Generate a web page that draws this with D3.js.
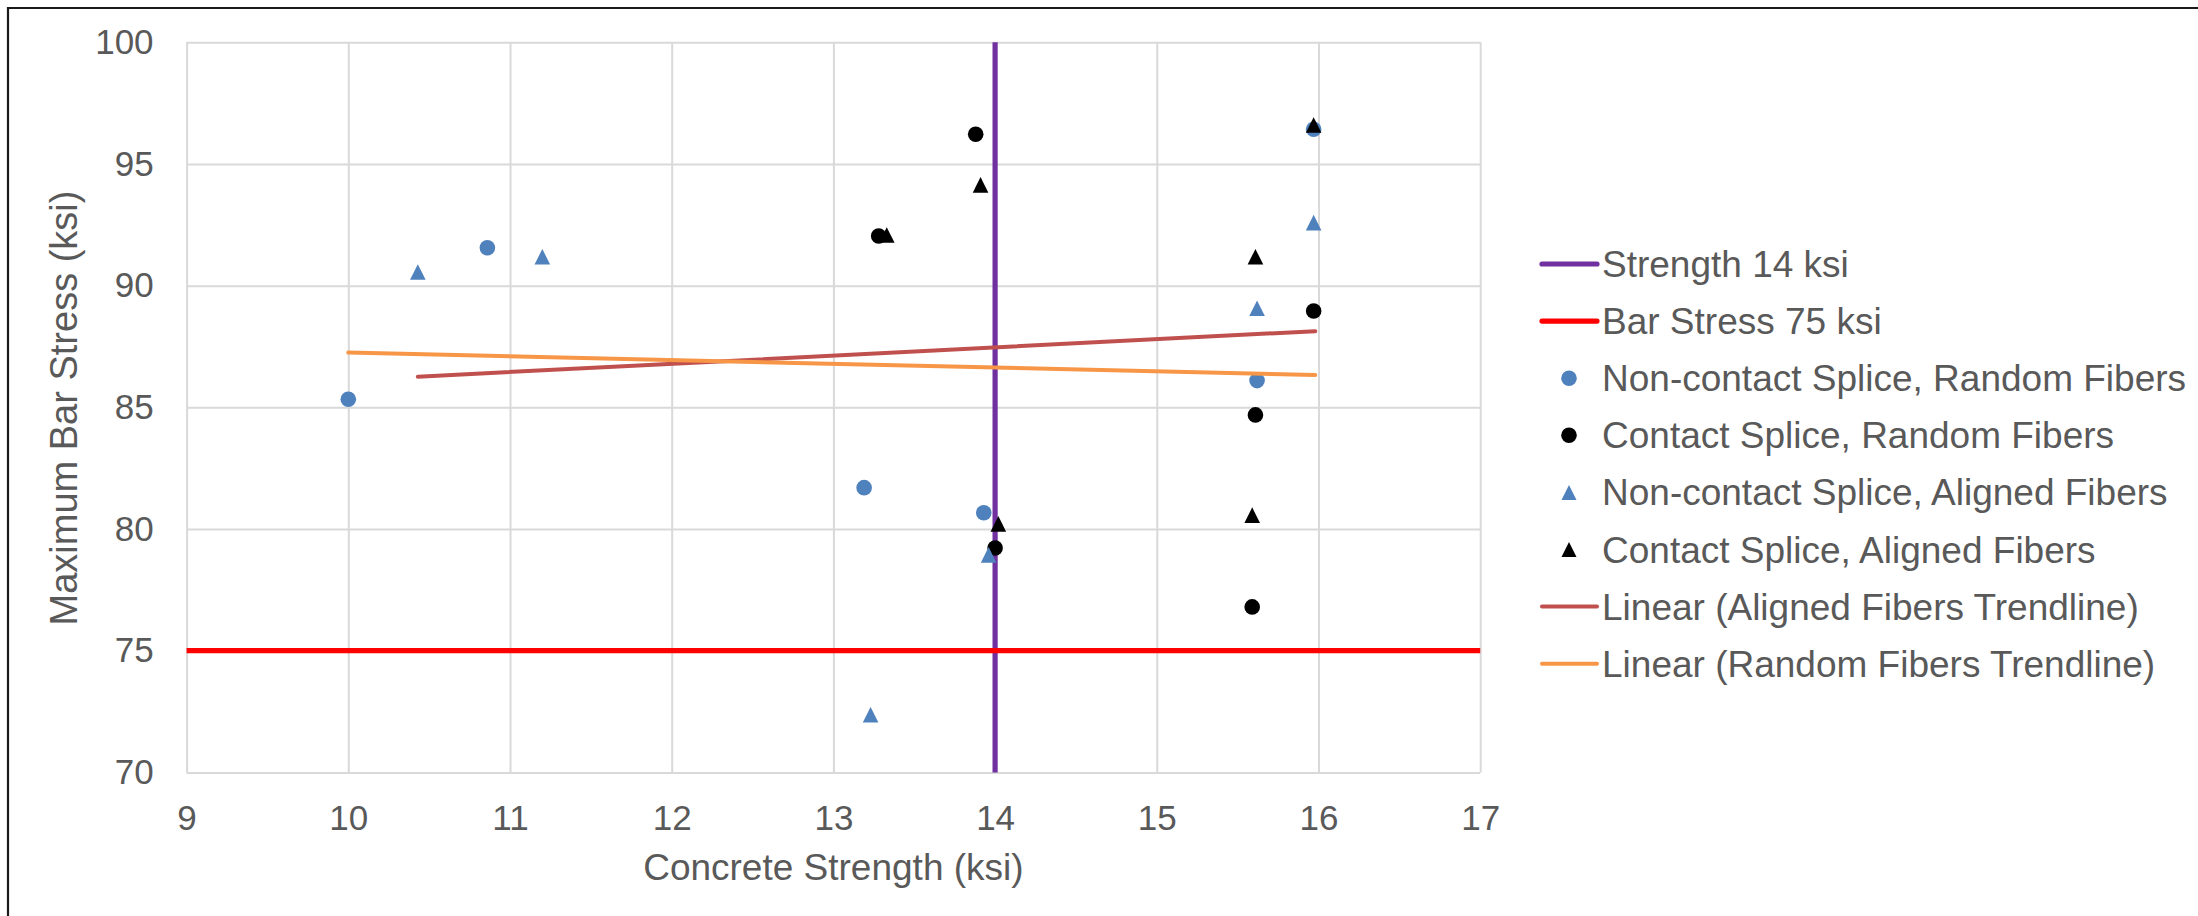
<!DOCTYPE html>
<html>
<head>
<meta charset="utf-8">
<script src="https://cdn.jsdelivr.net/npm/d3@7"></script>
<style>
  body { margin: 0; background: #fff; }
  text { font-family: "Liberation Sans", Arial, sans-serif; fill: #595959; }
</style>
</head>
<body>
<svg id="chart" width="2198" height="916"></svg>
<script>
// ---- data ----
const xTicks = [9, 10, 11, 12, 13, 14, 15, 16, 17];
const yTicks = [70, 75, 80, 85, 90, 95, 100];

const ncRandomX = [10.0, 10.86, 13.19, 13.93, 15.62, 15.97];
const ncRandomY = [85.33, 91.56, 81.70, 80.67, 86.10, 96.43];

const cRandomX = [13.28, 13.88, 14.0, 15.59, 15.61, 15.97];
const cRandomY = [92.04, 96.22, 79.22, 76.80, 84.69, 88.96];

const ncAlignedX = [10.43, 11.20, 13.23, 13.96, 15.62, 15.97];
const ncAlignedY = [90.56, 91.19, 72.37, 78.94, 89.07, 92.59];

const cAlignedX = [13.33, 13.91, 14.02, 15.59, 15.61, 15.97];
const cAlignedY = [92.08, 94.14, 80.21, 80.57, 91.19, 96.60];

// trendline end points
const alignedTrendX = [10.43, 15.98];
const alignedTrendY = [86.26, 88.13];
const randomTrendX = [10.0, 15.98];
const randomTrendY = [87.25, 86.33];

// reference limits
const strengthLimit = 14;
const stressLimit = 75;

const legendLabels = [
  "Strength 14 ksi",
  "Bar Stress 75 ksi",
  "Non-contact Splice, Random Fibers",
  "Contact Splice, Random Fibers",
  "Non-contact Splice, Aligned Fibers",
  "Contact Splice, Aligned Fibers",
  "Linear (Aligned Fibers Trendline)",
  "Linear (Random Fibers Trendline)"
];

// ---- styles ----
const BLUE = "#4f81bd", BLACK = "#000000", PURPLE = "#7030a0", RED = "#ff0000",
      TREND_RED = "#c0504d", TREND_ORANGE = "#f79646";

const svg = d3.select("#chart");
svg.append("rect").attr("width", 2198).attr("height", 916).attr("fill", "#fff");

// outer frame (top and left edges)
svg.append("path").attr("d", "M8,916 V8 H2198")
  .attr("fill", "none").attr("stroke", "#1a1a1a").attr("stroke-width", 2.2);

const plotLeft = 186.6, plotRight = 1480.2, plotTop = 42.3, plotBottom = 772.4;
const x = d3.scaleLinear().domain([9, 17]).range([plotLeft, plotRight]);
const y = d3.scaleLinear().domain([70, 100]).range([plotBottom, plotTop]);

// grid + axes
const gx = svg.append("g").attr("transform", `translate(0,${plotBottom})`)
  .call(d3.axisBottom(x).tickValues(xTicks).tickSize(-(plotBottom - plotTop)).tickPadding(33).tickFormat(d3.format("d")));
const gy = svg.append("g").attr("transform", `translate(${plotLeft},0)`)
  .call(d3.axisLeft(y).tickValues(yTicks).tickSize(-(plotRight - plotLeft)).tickPadding(33).tickFormat(d3.format("d")));
[gx, gy].forEach(g => {
  g.select(".domain").remove();
  g.selectAll(".tick line").attr("stroke", "#d9d9d9").attr("stroke-width", 2);
  g.selectAll(".tick text").attr("font-size", 35).attr("fill", "#595959")
    .attr("font-family", '"Liberation Sans", Arial, sans-serif');
});

// axis titles
svg.append("text").attr("x", (plotLeft + plotRight) / 2).attr("y", 880)
  .attr("text-anchor", "middle").attr("font-size", 37).text("Concrete Strength (ksi)");
svg.append("text").attr("transform", `translate(77,408) rotate(-90)`)
  .attr("text-anchor", "middle").attr("font-size", 38).text("Maximum Bar Stress (ksi)");

const plot = svg.append("g");

// reference lines
plot.append("line").attr("x1", x(strengthLimit)).attr("x2", x(strengthLimit))
  .attr("y1", y(70)).attr("y2", y(100)).attr("stroke", PURPLE).attr("stroke-width", 5.2);
plot.append("line").attr("x1", x(9)).attr("x2", x(17))
  .attr("y1", y(stressLimit)).attr("y2", y(stressLimit)).attr("stroke", RED).attr("stroke-width", 5.2);

const tri = (cx, cy, s) => `M${cx},${cy - s}L${cx + s},${cy + s}L${cx - s},${cy + s}Z`;

function circles(xs, ys, color) {
  plot.append("g").selectAll("circle").data(xs.map((d, i) => [d, ys[i]])).join("circle")
    .attr("cx", d => x(d[0])).attr("cy", d => y(d[1])).attr("r", 7.8).attr("fill", color);
}
function triangles(xs, ys, color) {
  plot.append("g").selectAll("path").data(xs.map((d, i) => [d, ys[i]])).join("path")
    .attr("d", d => tri(x(d[0]), y(d[1]), 7.8)).attr("fill", color);
}
circles(ncRandomX, ncRandomY, BLUE);
circles(cRandomX, cRandomY, BLACK);
triangles(ncAlignedX, ncAlignedY, BLUE);
triangles(cAlignedX, cAlignedY, BLACK);

// trendlines
const lineGen = d3.line().x(d => x(d[0])).y(d => y(d[1]));
plot.append("path").datum(alignedTrendX.map((d, i) => [d, alignedTrendY[i]]))
  .attr("d", lineGen).attr("fill", "none").attr("stroke", TREND_RED).attr("stroke-width", 4).attr("stroke-linecap", "round");
plot.append("path").datum(randomTrendX.map((d, i) => [d, randomTrendY[i]]))
  .attr("d", lineGen).attr("fill", "none").attr("stroke", TREND_ORANGE).attr("stroke-width", 4).attr("stroke-linecap", "round");

// legend
const legendKinds = [
  { type: "line", color: PURPLE, w: 5.2 },
  { type: "line", color: RED, w: 5.2 },
  { type: "circle", color: BLUE },
  { type: "circle", color: BLACK },
  { type: "tri", color: BLUE },
  { type: "tri", color: BLACK },
  { type: "line", color: TREND_RED, w: 4 },
  { type: "line", color: TREND_ORANGE, w: 4 }
];
const legend = svg.append("g");
legendLabels.forEach((label, i) => {
  const cy = 264 + i * 57.1;
  const k = legendKinds[i];
  if (k.type === "line") {
    legend.append("line").attr("x1", 1542).attr("x2", 1597).attr("y1", cy).attr("y2", cy)
      .attr("stroke", k.color).attr("stroke-width", k.w).attr("stroke-linecap", "round");
  } else if (k.type === "circle") {
    legend.append("circle").attr("cx", 1569).attr("cy", cy).attr("r", 7.8).attr("fill", k.color);
  } else {
    legend.append("path").attr("d", tri(1569, cy, 7.5)).attr("fill", k.color);
  }
  legend.append("text").attr("x", 1602).attr("y", cy + 13).attr("font-size", 37).text(label);
});
</script>
</body>
</html>
